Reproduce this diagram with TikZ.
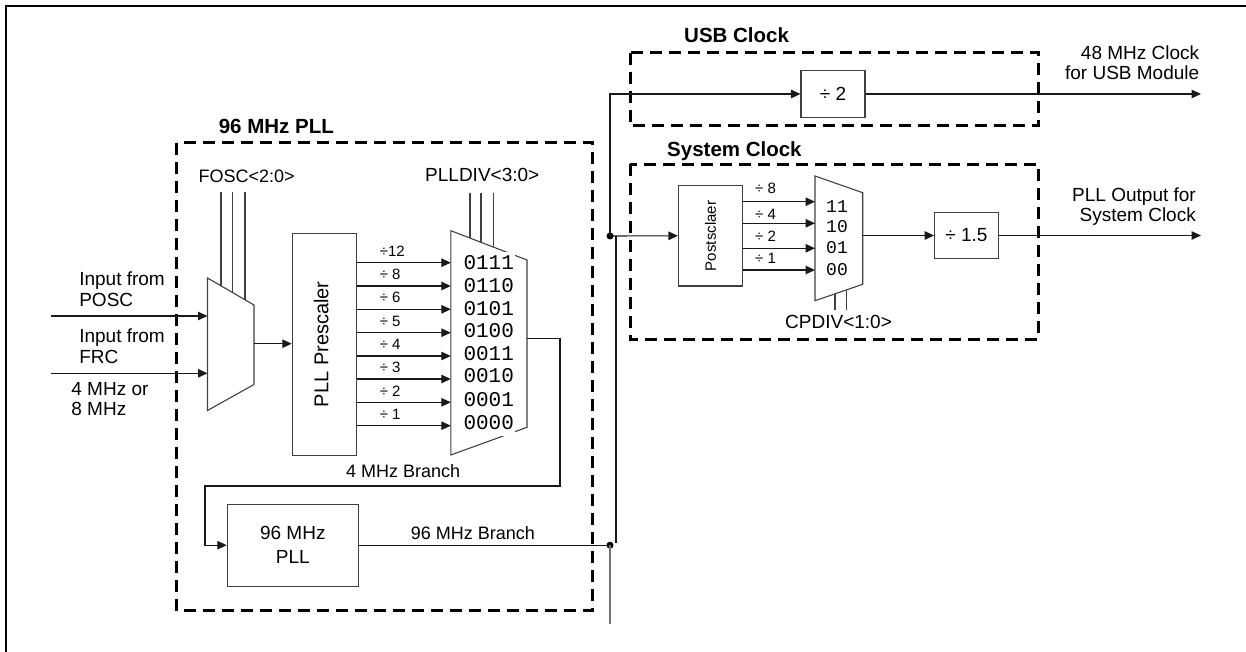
\documentclass[tikz,border=0pt]{standalone}
\usepackage{fontspec}
\setmainfont{Liberation Sans}
\newfontfamily\monof{Liberation Mono}
\usetikzlibrary{arrows.meta}
\tikzset{
  conn/.style={line width=1.1pt, draw=black!90},
  arr/.style={conn, -{Triangle[length=9.5pt,width=8.5pt]}},
  blk/.style={draw=black!75, line width=1.1pt, inner sep=0pt},
  grp/.style={draw=black, line width=3pt, dash pattern=on 12pt off 7pt},
  txt/.style={inner sep=0pt, font=\fontsize{19}{22}\selectfont},
  txs/.style={inner sep=0pt, font=\fontsize{18}{21}\selectfont},
  ttl/.style={inner sep=0pt, font=\bfseries\fontsize{20.5}{24}\selectfont},
  sml/.style={inner sep=0pt, font=\fontsize{15}{18}\selectfont},
  mono/.style={inner xsep=1pt, inner ysep=2pt, fill=white, text height=15.5pt, text depth=5pt, font=\monof\fontsize{21}{24}\selectfont},
  monos/.style={inner sep=0pt, font=\monof\fontsize{18}{20}\selectfont},
  jdot/.style={circle, fill=black, inner sep=0pt, minimum size=7pt},
}
\begin{document}
\begin{tikzpicture}[x=1pt,y=-1pt]
\useasboundingbox (0,0) rectangle (1246,652);
% outer frame
\draw[line width=2.6pt] (6,652) -- (6,6) -- (1246,6);

% group boxes
\draw[grp] (176.5,142.7) rectangle (592,610.7);
\draw[grp] (630,52.7) rectangle (1038,126);
\draw[grp] (630,164.3) rectangle (1038,339.3);
\node[ttl, anchor=base west] (t96) at (218.6,134) {96 MHz PLL};
\node[ttl, anchor=base west] (tusb) at (684,42.7) {USB Clock};
\node[ttl, anchor=base west] (tsys) at (667,156.3) {System Clock};

% blocks
\node[blk, minimum width=64.4pt, minimum height=221.7pt] (pre) at (324.5,344.2) {};
\node[inner sep=0pt, rotate=90, text height=14.3pt, text depth=0pt, font=\fontsize{20}{24}\selectfont] (pretxt) at (321.3,344.2) {PLL Prescaler};
\node[blk, minimum width=131pt, minimum height=81.7pt, align=center, font=\fontsize{19}{24}\selectfont] (pll96) at (292.8,545.2) {96 MHz\\PLL};
\node[blk, minimum width=64pt, minimum height=46.6pt, font=\fontsize{19}{22}\selectfont] (div2) at (833,94) {÷ 2};
\node[blk, minimum width=64.2pt, minimum height=100.3pt] (post) at (710.6,235.8) {};
\node[inner sep=0pt, rotate=90, text height=10.7pt, text depth=0pt, font=\fontsize{15}{18}\selectfont] (posttxt) at (710.6,236) {Postsclaer};
\node[blk, minimum width=63.7pt, minimum height=45.6pt, font=\fontsize{19}{22}\selectfont] (div15) at (966.5,235.5) {÷ 1.5};

% multiplexers
\coordinate (m1tl) at (207.5,278); \coordinate (m1tr) at (254,305);
\coordinate (m1br) at (254,384.5); \coordinate (m1bl) at (207.5,410.5);
\draw[blk] (m1tl) -- (m1tr) -- (m1br) -- (m1bl) -- cycle;
\coordinate (m2tl) at (450.8,230.7); \coordinate (m2tr) at (527,260);
\coordinate (m2br) at (527,427.3); \coordinate (m2bl) at (450.8,455);
\draw[blk] (m2tl) -- (m2tr) -- (m2br) -- (m2bl) -- cycle;
\coordinate (m3tl) at (815,176); \coordinate (m3tr) at (862.7,192.7);
\coordinate (m3br) at (862.7,284.3); \coordinate (m3bl) at (815,300.7);
\draw[blk] (m3tl) -- (m3tr) -- (m3br) -- (m3bl) -- cycle;

% select lines
\foreach \x/\y in {221/285.8, 232.7/292.6, 245/299.8} \draw[conn, draw=black!75] (\x,192.5) -- (\x,\y);
\foreach \x/\y in {470/238.1, 481/242.3, 493.3/247.0} \draw[conn, draw=black!75] (\x,192.7) -- (\x,\y);
\foreach \x/\y in {835/293.8, 846.7/289.8} \draw[conn, draw=black!75] (\x,\y) -- (\x,310);
\node[txs, anchor=base west] (fosc) at (198.3,182.7) {FOSC<2:0>};
\node[txt, anchor=base west] (plldiv) at (425,182) {PLLDIV<3:0>};
\node[txt, anchor=base west] (cpdiv) at (785,328.3) {CPDIV<1:0>};

% inputs
\coordinate (inA) at (50.6,316); \coordinate (inB) at (50.6,373.3);
\draw[arr] (inA) -- (inA -| m1tl);
\draw[arr] (inB) -- (inB -| m1tl);
\node[txt, anchor=base west] (in1a) at (79.1,285) {Input from};
\node[txt, anchor=base west] (in1b) at (79.1,306) {POSC};
\node[txt, anchor=base west] (in2a) at (79.1,342.7) {Input from};
\node[txt, anchor=base west] (in2b) at (79.1,363.3) {FRC};
\node[txt, anchor=base west] (fq1) at (71.2,395) {4 MHz or};
\node[txt, anchor=base west] (fq2) at (71.2,415.7) {8 MHz};

% mux1 -> prescaler
\coordinate (m1out) at (254,343.7);
\draw[arr] (m1out) -- (m1out -| pre.west);

% prescaler -> PLLDIV mux
\foreach \y/\lab/\b [count=\i] in {262.7/÷12/256, 286/÷ 8/279.3, 309.3/÷ 6/302.7, 332.7/÷ 5/326, 356/÷ 4/349.3, 379/÷ 3/372.6, 402.3/÷ 2/396, 425.7/÷ 1/419.3} {
  \coordinate (pr\i) at (0,\y);
  \draw[arr] (pr\i -| pre.east) -- (pr\i -| m2tl);
  \node[sml, anchor=base west] (pl\i) at (379.6,\b) {\lab};
}
\foreach \t/\b [count=\i] in {0111/269.3, 0110/292.7, 0101/315, 0100/337.3, 0011/360, 0010/382.7, 0001/406, 0000/429.3} {
  \node[mono, anchor=base west] (ml\i) at (462.3,\b) {\t};
}

% 4 MHz branch
\coordinate (m2out) at (527,338.3);
\coordinate (b4a) at (560,338.3); \coordinate (b4b) at (560,486);
\coordinate (b4c) at (205,486); \coordinate (b4d) at (205,545.2);
\draw[arr] (m2out) -- (b4a) -- (b4b) -- (b4c) -- (b4d) -- (pll96.west);
\node[txs, anchor=base west] (lb4) at (346,477.3) {4 MHz Branch};

% 96 MHz branch
\node[jdot] (j2) at (610,545.2) {};
\node[jdot] (j1) at (610,236) {};
\draw[conn] (pll96.east) -- (j2.center);
\node[txs, anchor=base west] (lb96) at (410.7,539.3) {96 MHz Branch};
\coordinate (dn) at (610,624);
\draw[conn, draw=black!55] (j2.center) -- (dn);
\coordinate (vt) at (616,236); \coordinate (vb) at (616,543);
\draw[conn] (vt) -- (vb);
\draw[arr] (j1.center) |- (div2.west);
\draw[arr] (j1.center) -- (post.west);

% USB output
\coordinate (usbout) at (1201,94);
\draw[arr] (div2.east) -- (usbout);
\node[txt, anchor=base east] (o1) at (1199.4,60) {48 MHz Clock};
\node[txt, anchor=base east] (o2) at (1199.4,80) {for USB Module};

% postscaler -> CPDIV mux
\foreach \y/\lab/\b [count=\i] in {201.7/÷ 8/194, 223.3/÷ 4/219.3, 248.3/÷ 2/241.7, 270/÷ 1/263.7} {
  \coordinate (ps\i) at (0,\y);
  \draw[arr] (ps\i -| post.east) -- (ps\i -| m3tl);
  \node[sml, anchor=base west] (psl\i) at (755,\b) {\lab};
}
\foreach \t/\b [count=\i] in {11/212.3, 10/232.3, 01/254, 00/275} {
  \node[monos, anchor=base west] (cl\i) at (826,\b) {\t};
}
\coordinate (m3out) at (862.7,235.5);
\draw[arr] (m3out) -- (div15.west);
\coordinate (sysout) at (1201,235.5);
\draw[arr] (div15.east) -- (sysout);
\node[txt, anchor=base east] (o3) at (1196,201.7) {PLL Output for};
\node[txt, anchor=base east] (o4) at (1196,221.7) {System Clock};
\end{tikzpicture}
\end{document}
